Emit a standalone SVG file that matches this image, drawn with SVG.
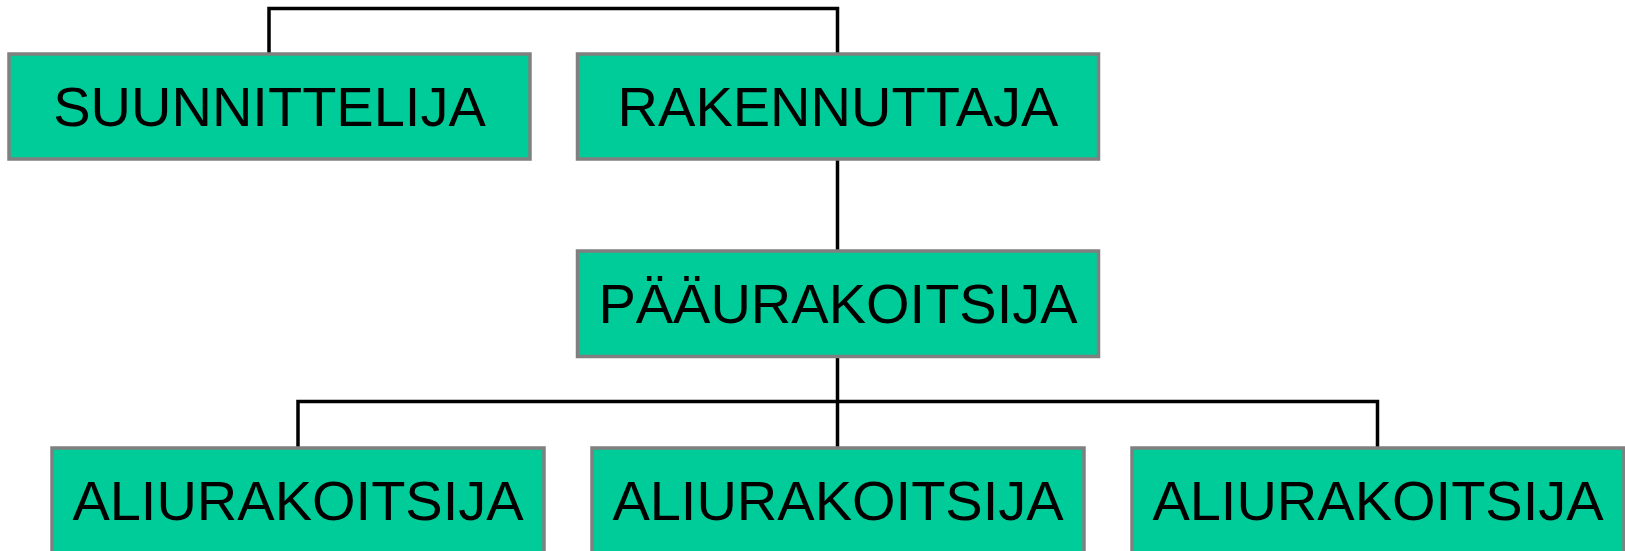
<svg xmlns="http://www.w3.org/2000/svg" width="1625" height="551" viewBox="0 0 1625 551">
<style>
.box{fill:#00CC99;stroke:#808080;stroke-width:3.5}
.lbl{font-family:"Liberation Sans",Arial,sans-serif;font-size:56px;fill:#000;text-anchor:middle}
.con{fill:none;stroke:#000;stroke-width:3.5}
</style>
<rect width="1625" height="551" fill="#fff"/>
<g id="connectors">
<path class="con" d="M269 54 V8.5 H837.5 V54"/>
<path class="con" d="M837.5 159 V251"/>
<path class="con" d="M837.5 356.5 V448"/>
<path class="con" d="M298 448 V401.5 H1377.5 V448"/>
</g>
<g id="suunnittelija">
<rect class="box" x="9" y="54" width="521" height="105"/>
<text class="lbl" x="269.5" y="125.5">SUUNNITTELIJA</text>
</g>
<g id="rakennuttaja">
<rect class="box" x="577.5" y="54" width="521" height="105"/>
<text class="lbl" x="838" y="125.5">RAKENNUTTAJA</text>
</g>
<g id="paaurakoitsija">
<rect class="box" x="577.5" y="251" width="521" height="105.5"/>
<text class="lbl" x="838" y="322.5">PÄÄURAKOITSIJA</text>
</g>
<g id="aliurakoitsija1">
<rect class="box" x="52" y="448" width="492" height="106"/>
<text class="lbl" x="298" y="520">ALIURAKOITSIJA</text>
</g>
<g id="aliurakoitsija2">
<rect class="box" x="592" y="448" width="492" height="106"/>
<text class="lbl" x="838" y="520">ALIURAKOITSIJA</text>
</g>
<g id="aliurakoitsija3">
<rect class="box" x="1132" y="448" width="492" height="106"/>
<text class="lbl" x="1378" y="520">ALIURAKOITSIJA</text>
</g>
</svg>
